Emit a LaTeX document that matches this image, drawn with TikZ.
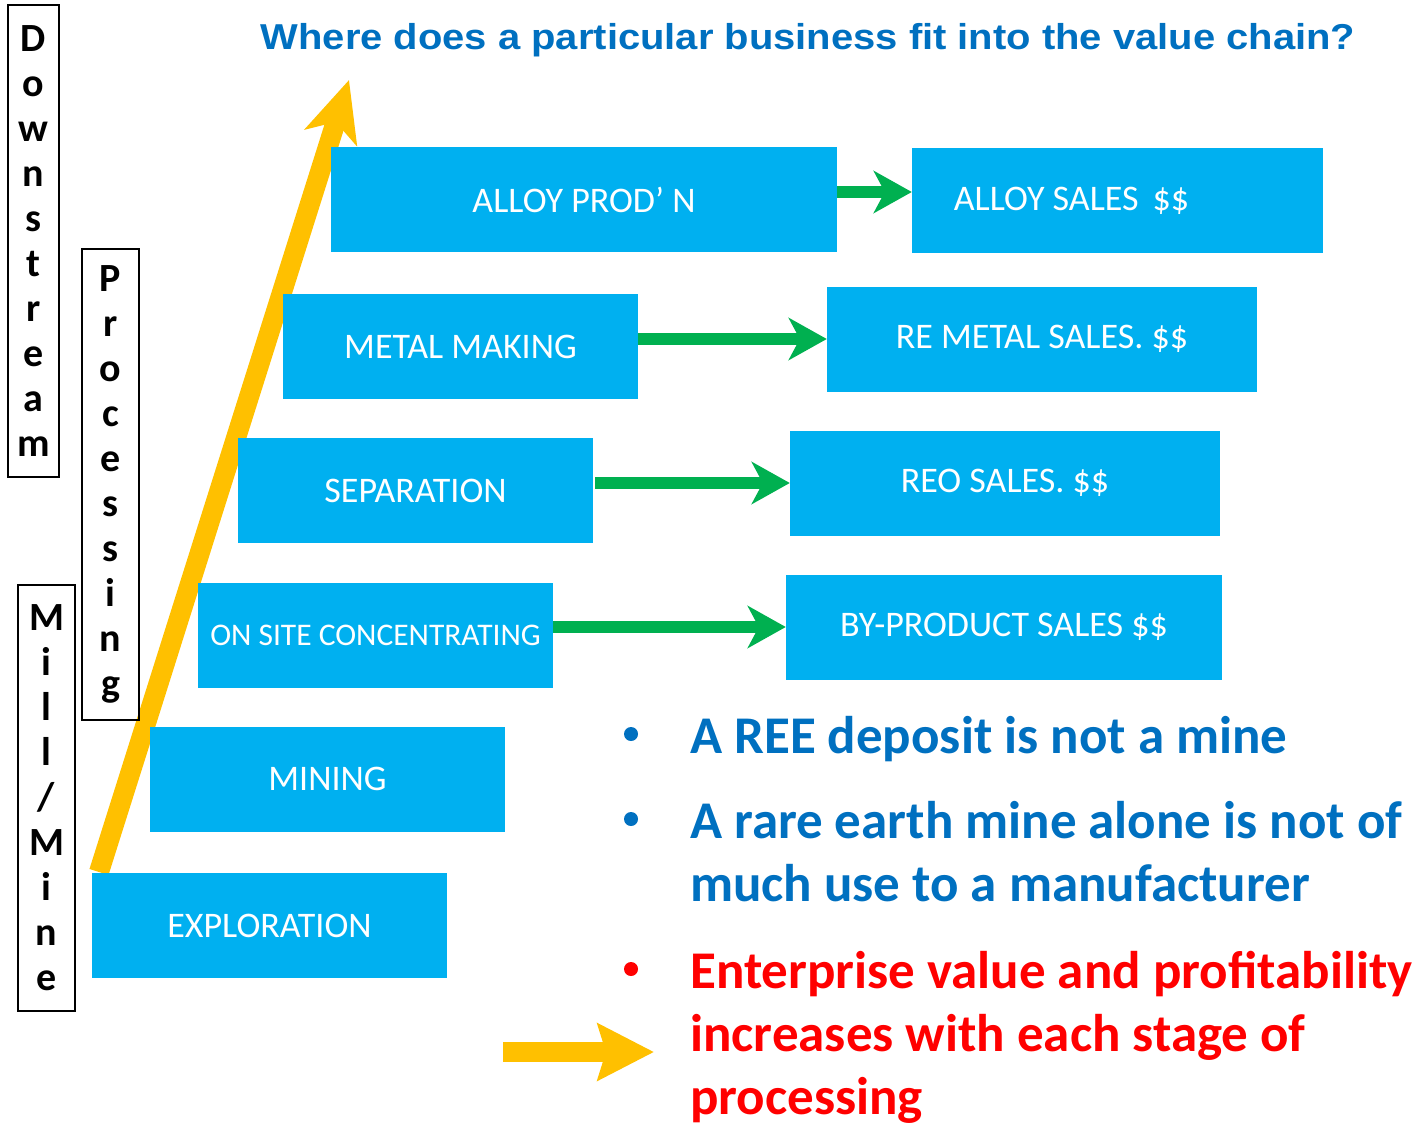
\documentclass[tikz,border=0pt]{standalone}
\usepackage{fontspec}
\setmainfont{Carlito}
\newfontfamily\titlefont[FakeStretch=1.11]{Liberation Sans}
\usetikzlibrary{arrows.meta,positioning}
\definecolor{stagecyan}{HTML}{00B0F0}
\definecolor{flowgreen}{HTML}{00B050}
\definecolor{risegold}{HTML}{FFC000}
\definecolor{noteblue}{HTML}{0070C0}
\definecolor{notered}{HTML}{FF0000}
\tikzset{
  stage/.style={fill=stagecyan,text=white,minimum width=355pt,minimum height=105pt,
    inner sep=0pt,font=\fontsize{36}{40}\selectfont},
  sales/.style={stage,minimum width=430pt},
  flow/.style={-{Stealth[length=38pt,width=42pt,inset=11pt]},draw=flowgreen,line width=12pt},
  rise/.style={-{Stealth[length=60pt,width=54pt,inset=16pt]},draw=risegold,line width=20pt},
  tier/.style={draw=black,line width=1.6pt,inner sep=0pt,align=center,
    font=\bfseries\fontsize{40}{45}\selectfont},
  bul/.style={circle,inner sep=0pt,minimum size=14pt},
  note/.style={anchor=base west,inner sep=0pt,
    font=\bfseries\fontsize{53}{63}\selectfont},
}
\newcommand{\notetext}[1]{\parbox[t]{740pt}{#1}}

\begin{document}
\begin{tikzpicture}[x=1pt,y=-1pt]
  \useasboundingbox (0,0) rectangle (1418,1123);
  \node[anchor=base,text=noteblue,font=\titlefont\bfseries\fontsize{36}{40}\selectfont]
    (title) at (808,50) {Where does a particular business fit into the value chain?};

  % the climb up the chain, drawn behind the stages
  \coordinate (risefoot) at (99,872);
  \coordinate (risetop) at (349,80);
  \draw[rise] (risefoot) -- (risetop);

  \node[stage] (explore) at (269.5,925.5) {EXPLORATION};
  \node[stage] (mining) at (327.5,779) {MINING};
  \node[stage,font=\fontsize{31.5}{36}\selectfont] (conc) at (375.5,635) {ON SITE CONCENTRATING};
  \node[stage] (sep) at (415.5,490.5) {SEPARATION};
  \node[stage] (metal) at (460.5,346.5) {METAL MAKING};
  \node[stage,minimum width=506pt] (alloy) at (584,200) {ALLOY PROD’ N};

  \node[sales,minimum width=411pt] (alloysales) at (1117.5,201)
    {ALLOY SALES\hspace*{14pt}\$\$\hspace*{92pt}};
  \node[sales] (metalsales) at (1042,339) {RE METAL SALES. \$\$};
  \node[sales] (reosales) at (1005,483) {REO SALES. \$\$};
  \node[sales,minimum width=436pt] (bysales) at (1004,627) {BY-PRODUCT SALES \$\$};

  \path ([yshift=9pt]alloy.east |- alloysales.west) edge[flow] ([yshift=9pt]alloysales.west)
        (metal.east |- metalsales.west) edge[flow] (metalsales.west)
        ([xshift=2pt]sep.east |- reosales.west) edge[flow] (reosales.west)
        (conc.east |- bysales.west) edge[flow] (bysales.west);

  \node[tier,minimum width=51pt,minimum height=472pt] (downstream) at (33.5,241)
    {D\\o\\w\\n\\s\\t\\r\\e\\a\\m};
  \node[tier,minimum width=57pt,minimum height=471pt] (processing) at (110.5,484.5)
    {P\\r\\o\\c\\e\\s\\s\\i\\n\\g};
  \node[tier,minimum width=57pt,minimum height=426pt] (millmine) at (46.5,798)
    {M\\i\\l\\l\\/\\M\\i\\n\\e};

  \node[bul,fill=noteblue] (b1) at (631,734) {};
  \node[bul,fill=noteblue] (b2) at (631,819) {};
  \node[bul,fill=notered] (b3) at (631,969) {};
  \node[note,text=noteblue] (n1) at (690,753) {\notetext{A REE deposit is not a mine}};
  \node[note,text=noteblue] (n2) at (690,838) {\notetext{A rare earth mine alone is not of\\much use to a manufacturer}};
  \node[note,text=notered] (n3) at (690,988) {\notetext{Enterprise value and profitability\\increases with each stage of\\processing}};

  \coordinate (gainfoot) at (503,1052);
  \coordinate (gaintip) at (654,1052);
  \draw[rise,-{Stealth[length=56pt,width=56pt,inset=8pt]}] (gainfoot) -- (gaintip);
\end{tikzpicture}
\end{document}
